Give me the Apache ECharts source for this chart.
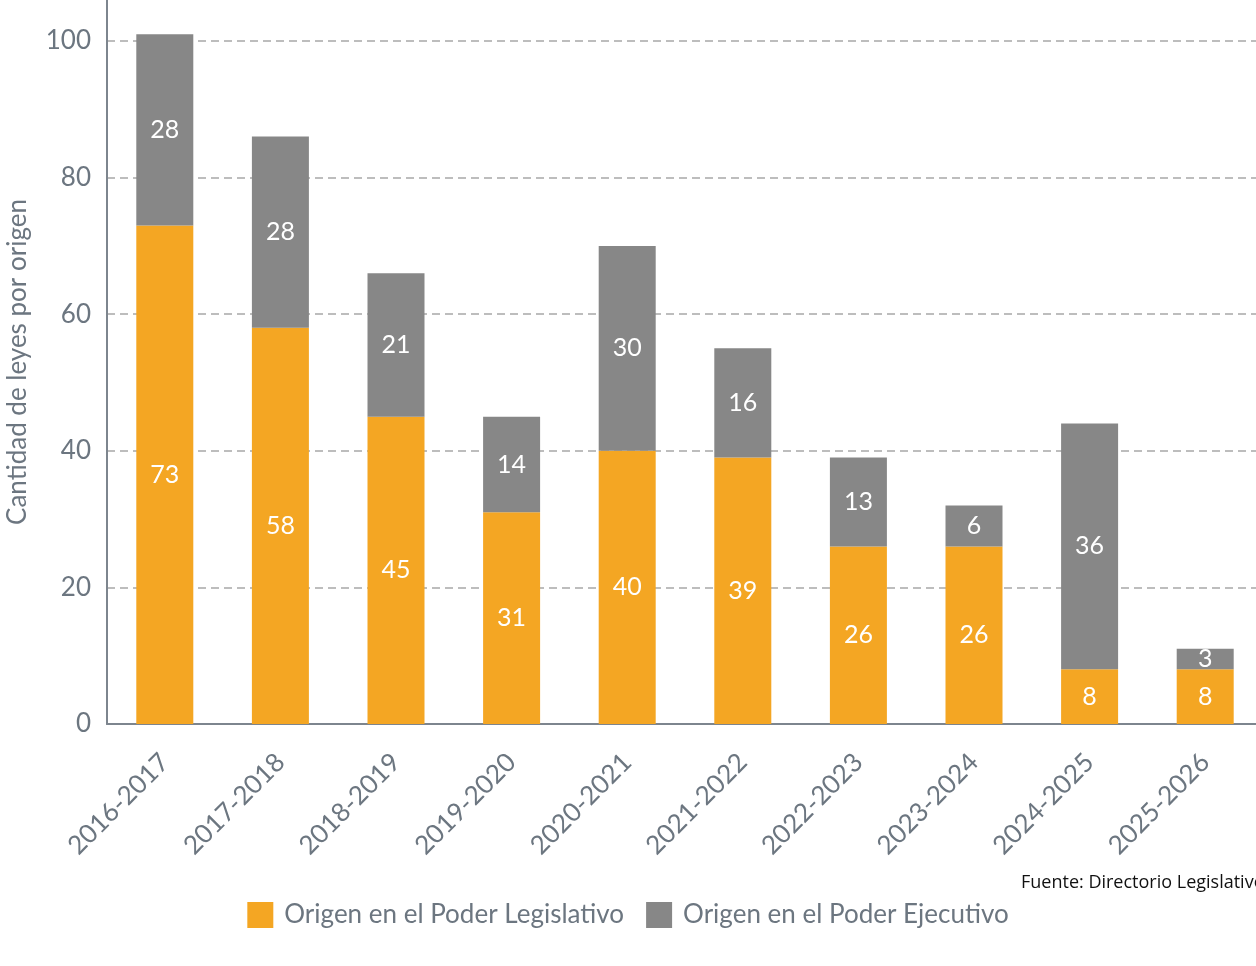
<!DOCTYPE html>
<html>
<head>
<meta charset="utf-8">
<script src="https://cdn.jsdelivr.net/npm/echarts@6/dist/echarts.min.js"></script>
<style>
  html, body { margin: 0; padding: 0; background: #fff; }
  #chart { width: 1256px; height: 966px; }
</style>
</head>
<body>
<div id="chart"></div>
<script>
  // periodos legislativos
  const periodos = ['2016-2017', '2017-2018', '2018-2019', '2019-2020', '2020-2021',
    '2021-2022', '2022-2023', '2023-2024', '2024-2025', '2025-2026'];
  const legislativo = [73, 58, 45, 31, 40, 39, 26, 26, 8, 8];
  const ejecutivo = [28, 28, 21, 14, 30, 16, 13, 6, 36, 3];
  const yTicks = [0, 20, 40, 60, 80, 100];

  const FONT = 'Lato';
  const GRIS_TEXTO = '#6c7680';

  let myChart = echarts.init(document.getElementById('chart'));
  myChart.setOption({
    animation: false,
    textStyle: { fontFamily: FONT },
    grid: {
      left: 107,
      top: 0,
      width: 1156,
      height: 724,
      outerBoundsMode: 'none'
    },
    legend: {
      bottom: 33,
      left: 'center',
      itemWidth: 26,
      itemHeight: 26,
      itemGap: 22,
      icon: 'rect',
      textStyle: { fontFamily: FONT, fontSize: 26, color: GRIS_TEXTO, padding: [0, 0, 0, 6] },
      data: ['Origen en el Poder Legislativo', 'Origen en el Poder Ejecutivo']
    },
    graphic: [{
      type: 'text',
      left: 1021,
      top: 874,
      style: {
        text: 'Fuente: Directorio Legislativo',
        fontFamily: 'Open Sans',
        fontSize: 18,
        fill: '#111'
      }
    }],
    xAxis: {
      type: 'category',
      data: periodos,
      axisTick: { show: false },
      axisLine: { lineStyle: { color: '#7d858e', width: 2 } },
      axisLabel: {
        rotate: 45,
        margin: 34,
        fontSize: 26,
        color: GRIS_TEXTO,
        interval: 0
      }
    },
    yAxis: {
      type: 'value',
      min: 0,
      max: 106,
      interval: 20,
      name: 'Cantidad de leyes por origen',
      nameLocation: 'middle',
      nameGap: 76,
      nameTextStyle: { fontSize: 26, color: GRIS_TEXTO },
      axisLine: { show: true, lineStyle: { color: '#7d858e', width: 2 } },
      axisTick: { show: false },
      axisLabel: {
        fontSize: 26,
        color: GRIS_TEXTO,
        margin: 16,
        formatter: v => (yTicks.indexOf(v) >= 0 ? String(v) : '')
      },
      splitLine: {
        showMaxLine: false,
        lineStyle: { color: '#bdbdbd', width: 2, type: [8, 5] }
      }
    },
    series: [
      {
        name: 'Origen en el Poder Legislativo',
        type: 'bar',
        stack: 'total',
        barWidth: 57,
        itemStyle: { color: '#f4a623' },
        label: { show: true, position: 'inside', color: '#fff', fontSize: 25, fontFamily: FONT },
        data: legislativo
      },
      {
        name: 'Origen en el Poder Ejecutivo',
        type: 'bar',
        stack: 'total',
        barWidth: 57,
        itemStyle: { color: '#878787' },
        label: { show: true, position: 'inside', color: '#fff', fontSize: 25, fontFamily: FONT },
        data: ejecutivo
      }
    ]
  });
</script>
</body>
</html>
